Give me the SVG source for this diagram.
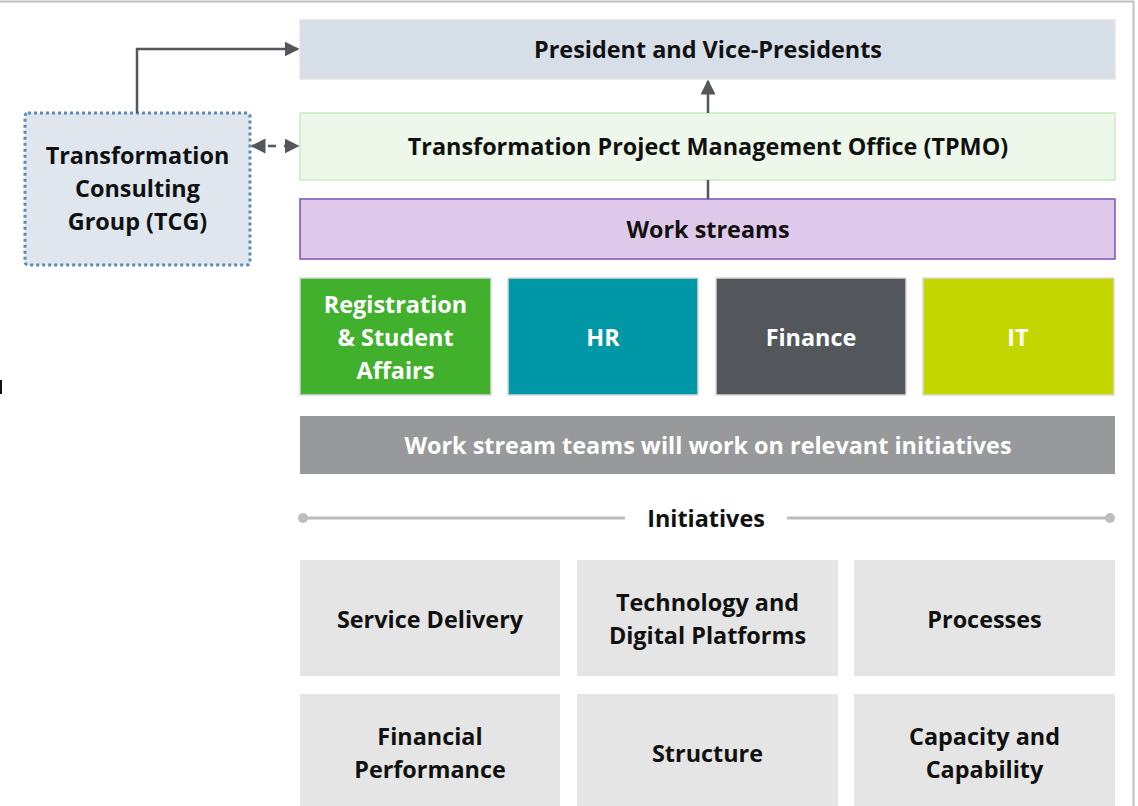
<svg xmlns="http://www.w3.org/2000/svg" width="1138" height="806" viewBox="0 0 1138 806">
<defs>
<style>
.t{font-family:"Open Sans","Liberation Sans",Arial,sans-serif;font-weight:bold;font-size:23.4px;text-anchor:middle;fill:#111}
.w{fill:#fff}
.cell{stroke:#d9d9d9;stroke-width:1.5}
.conn{stroke:#53565b;stroke-width:2.5;fill:none}
.ini{fill:#e5e5e5}
</style>
<marker id="ah" viewBox="0 0 10 10" refX="9" refY="5" markerWidth="6" markerHeight="6" orient="auto-start-reverse">
<path d="M0,0 L10,5 L0,10 z" fill="#53565b"/>
</marker>
</defs>
<rect width="1138" height="806" fill="#fff"/>
<path d="M0,1.5 H1133.5 V806" fill="none" stroke="#c0c0c0" stroke-width="2"/>
<rect x="0" y="380" width="2" height="14" fill="#111"/>

<g id="president">
<rect x="300" y="20" width="815" height="59" fill="#d6dee8" stroke="#e3e3e3" stroke-width="1.5"/>
<text class="t" x="708" y="58">President and Vice-Presidents</text>
</g>
<g id="tpmo">
<rect x="300" y="113" width="815" height="67" fill="#eef8ea" stroke="#c9ecc1" stroke-width="1.5"/>
<text class="t" x="708" y="155">Transformation Project Management Office (TPMO)</text>
</g>
<g id="workstreams">
<rect x="300" y="199" width="815" height="60" fill="#dfc9eb" stroke="#8050b5" stroke-width="1.5"/>
<text class="t" x="708" y="238">Work streams</text>
</g>
<g id="tcg">
<rect x="25" y="113" width="225" height="152" rx="3" fill="#dfe6ee" stroke="#5e88b7" stroke-width="3" stroke-dasharray="3,3"/>
<text class="t" x="137.5" y="164">Transformation</text>
<text class="t" x="137.5" y="197">Consulting</text>
<text class="t" x="137.5" y="230">Group (TCG)</text>
</g>
<g id="registration">
<rect class="cell" x="300" y="278" width="191" height="117" fill="#41b02c"/>
<text class="t w" x="395.5" y="313">Registration</text>
<text class="t w" x="395.5" y="346">&amp; Student</text>
<text class="t w" x="395.5" y="379">Affairs</text>
</g>
<g id="hr">
<rect class="cell" x="508" y="278" width="190" height="117" fill="#0097a7"/>
<text class="t w" x="603" y="346">HR</text>
</g>
<g id="finance">
<rect class="cell" x="716" y="278" width="190" height="117" fill="#53565b"/>
<text class="t w" x="811" y="346">Finance</text>
</g>
<g id="it">
<rect class="cell" x="923" y="278" width="191" height="117" fill="#c4d600"/>
<text class="t w" x="1018" y="346">IT</text>
</g>
<g id="teams">
<rect x="300" y="416" width="815" height="58" fill="#98999b"/>
<text class="t w" x="708" y="454">Work stream teams will work on relevant initiatives</text>
</g>
<g id="initiatives">
<line x1="303" y1="518" x2="625" y2="518" stroke="#bdbdbd" stroke-width="3"/>
<line x1="787" y1="518" x2="1110" y2="518" stroke="#bdbdbd" stroke-width="3"/>
<circle cx="303" cy="518" r="5" fill="#bdbdbd"/>
<circle cx="1110" cy="518" r="5" fill="#bdbdbd"/>
<text class="t" x="706" y="527">Initiatives</text>
</g>
<g id="service-delivery">
<rect class="ini" x="300" y="560" width="260" height="116"/>
<text class="t" x="430" y="628">Service Delivery</text>
</g>
<g id="technology">
<rect class="ini" x="577" y="560" width="261" height="116"/>
<text class="t" x="707.5" y="611">Technology and</text>
<text class="t" x="707.5" y="644">Digital Platforms</text>
</g>
<g id="processes">
<rect class="ini" x="854" y="560" width="261" height="116"/>
<text class="t" x="984.5" y="628">Processes</text>
</g>
<g id="financial-performance">
<rect class="ini" x="300" y="694" width="260" height="112"/>
<text class="t" x="430" y="745">Financial</text>
<text class="t" x="430" y="778">Performance</text>
</g>
<g id="structure">
<rect class="ini" x="577" y="694" width="261" height="112"/>
<text class="t" x="707.5" y="762">Structure</text>
</g>
<g id="capacity">
<rect class="ini" x="854" y="694" width="261" height="112"/>
<text class="t" x="984.5" y="745">Capacity and</text>
<text class="t" x="984.5" y="778">Capability</text>
</g>

<g id="connectors">
<path class="conn" d="M137,113 V49 H298" marker-end="url(#ah)"/>
<path class="conn" d="M252,146 H298" stroke-dasharray="8,8" marker-start="url(#ah)" marker-end="url(#ah)"/>
<path class="conn" d="M708,199 V180"/>
<path class="conn" d="M708,113 V81" marker-end="url(#ah)"/>
</g>
</svg>
